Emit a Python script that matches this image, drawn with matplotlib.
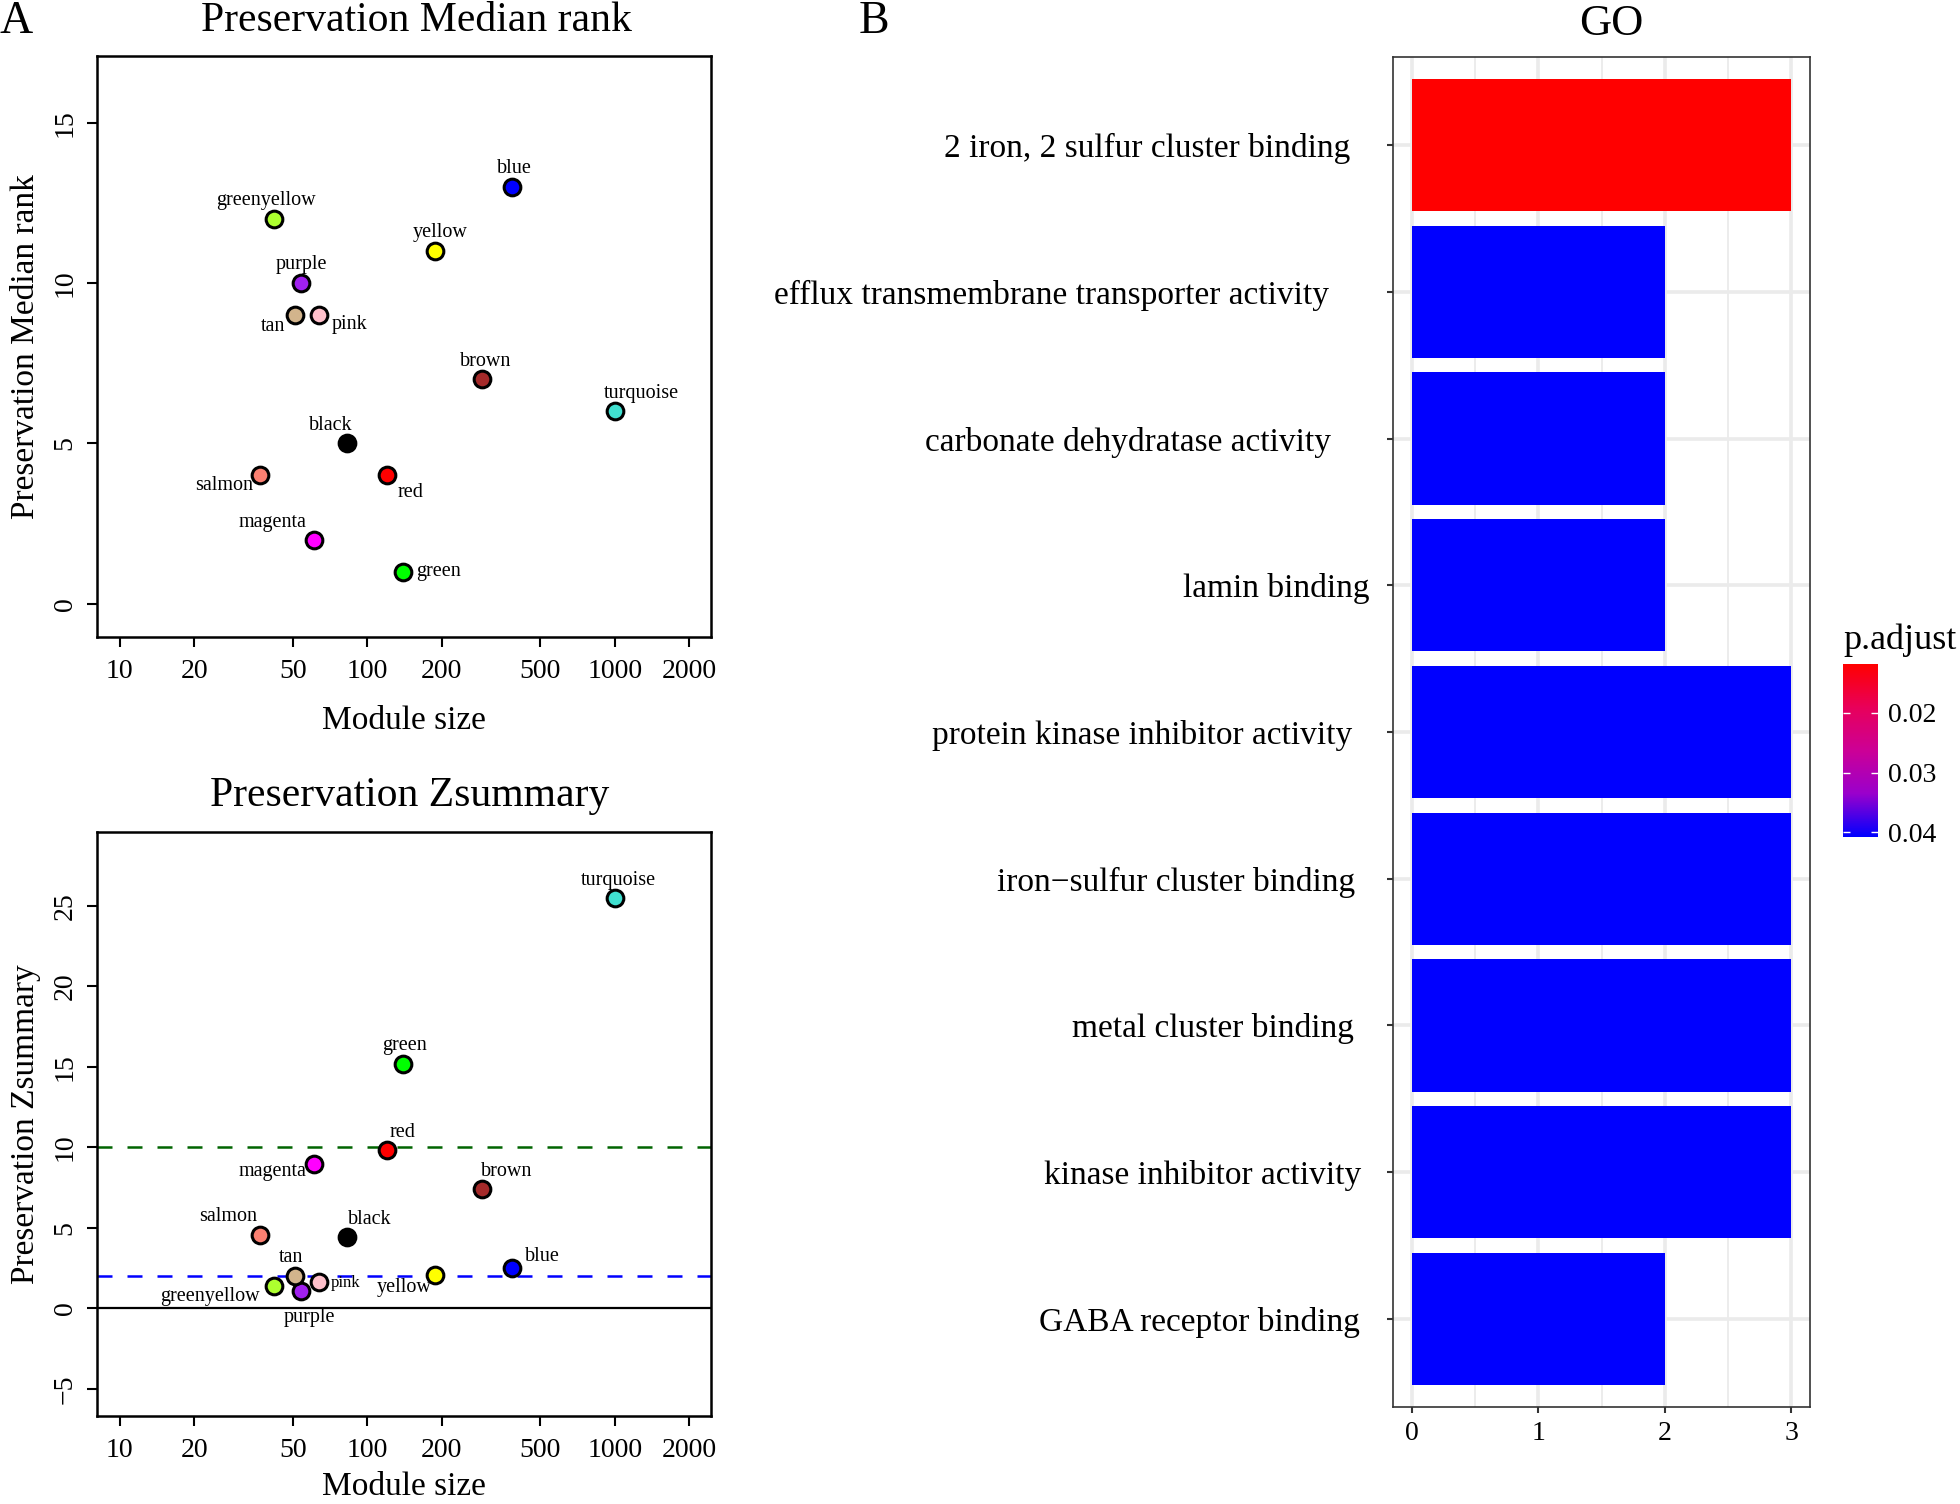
import numpy as np
import matplotlib.pyplot as plt
import matplotlib.transforms as mtransforms
from matplotlib.colors import LinearSegmentedColormap, Normalize
from matplotlib.cm import ScalarMappable

plt.rcParams['font.family'] = ['Liberation Serif', 'DejaVu Serif']

# --- MODULE PRESERVATION DATA ---
modules = ['greenyellow', 'purple', 'tan', 'pink', 'blue', 'yellow', 'brown',
           'turquoise', 'black', 'salmon', 'red', 'magenta', 'green']
module_colors = ['#ADFF2F', '#A020F0', '#D2B48C', '#FFC0CB', '#0000FF', '#FFFF00', '#A52A2A',
                 '#40E0D0', '#000000', '#FA8072', '#FF0000', '#FF00FF', '#00FF00']
module_size = [42, 54, 51, 64, 383, 188, 291, 1000, 83, 37, 120, 61, 140]
median_rank = [12, 10, 9, 9, 13, 11, 7, 6, 5, 4, 4, 2, 1]
zsummary = [1.36, 1.07, 2.01, 1.66, 2.51, 2.07, 7.4, 25.47, 4.41, 4.56, 9.82, 8.99, 15.2]

size_ticks = [10, 20, 50, 100, 200, 500, 1000, 2000]

# label offsets (points) so the names sit where the original put them
rank_label_offsets = [(-6, 13), (0, 13), (-16, -8), (22, -7), (2, 13), (4, 13), (3, 13),
                      (19, 13), (-12, 13), (-26, -7), (17, -12), (-30, 12), (25, 0)]
z_label_offsets = [(-46, -7), (6, -19), (-3, 13), (19, -1), (22, 8), (-22, -9), (18, 13),
                   (3, 13), (16, 13), (-23, 13), (11, 13), (-30, -6), (1, 13)]

# --- GO ENRICHMENT DATA (top to bottom) ---
go_terms = ['2 iron, 2 sulfur cluster binding',
            'efflux transmembrane transporter activity',
            'carbonate dehydratase activity',
            'lamin binding',
            'protein kinase inhibitor activity',
            'iron\u2212sulfur cluster binding',
            'metal cluster binding',
            'kinase inhibitor activity',
            'GABA receptor binding']
go_counts = [3, 2, 2, 2, 3, 3, 3, 3, 2]
go_padj = [0.0118, 0.0408, 0.0408, 0.0408, 0.0408, 0.0408, 0.0408, 0.0408, 0.0408]
go_label_gap = [31, 46, 44.5, 17, 29, 27, 28, 23, 23.5]   # points between tick and label

# --- FIGURE ---
W, H = 1960, 1504
fig = plt.figure(figsize=(W / 100, H / 100), dpi=100)

ax1 = fig.add_axes([97 / W, 1 - 637 / H, 614 / W, 581 / H])
ax2 = fig.add_axes([97 / W, 1 - 1416 / H, 614 / W, 584 / H])


def preservation_panel(ax, yvals, offsets, ylim, yticks, ylabel, xlabelpad):
    for name, col, x, y, (dx, dy) in zip(modules, module_colors, module_size, yvals, offsets):
        ax.plot(x, y, 'o', markersize=12, markerfacecolor=col, markeredgecolor='black',
                markeredgewidth=2.2, zorder=5)
        fs = 12 if (name == 'pink' and ax is ax2) else 14.5
        ax.annotate(name, (x, y), xytext=(dx, dy), textcoords='offset points',
                    ha='center', va='center', fontsize=fs, zorder=6)
    ax.set_xscale('log')
    ax.set_xlim(8.1, 2450)
    ax.set_ylim(*ylim)
    ax.set_xticks(size_ticks)
    ax.set_xticklabels([str(t) for t in size_ticks])
    ax.xaxis.set_minor_locator(plt.NullLocator())
    ax.set_yticks(yticks)
    ax.set_yticklabels([str(t).replace('-', '\u2212') for t in yticks], rotation=90, va='center')
    ax.tick_params(direction='out', length=7, width=1.5, labelsize=20, pad=7)
    ax.tick_params(axis='x', pad=9)
    for sp in ax.spines.values():
        sp.set_linewidth(1.8)
    ax.set_xlabel('Module size', fontsize=24, labelpad=xlabelpad)
    ax.set_ylabel(ylabel, fontsize=24)
    ax.yaxis.set_label_coords(-0.092, 0.5)


preservation_panel(ax1, median_rank, rank_label_offsets, (-1.04, 17.08), [0, 5, 10, 15],
                   'Preservation Median rank', 15)
preservation_panel(ax2, zsummary, z_label_offsets, (-6.69, 29.59), [-5, 0, 5, 10, 15, 20, 25],
                   'Preservation Zsummary', 6)
ax2.axhline(0, color='black', lw=1.6, zorder=2)
ax2.axhline(2, color='blue', lw=1.8, ls=(0, (6, 6)), zorder=2)
ax2.axhline(10, color='darkgreen', lw=1.8, ls=(0, (6, 6)), zorder=2)

fig.text(416 / W, 1 - 21 / H, 'Preservation Median rank', ha='center', va='center', fontsize=30)
fig.text(410 / W, 1 - 796 / H, 'Preservation Zsummary', ha='center', va='center', fontsize=30)
fig.text(0.0, 1 - 22 / H, 'A', ha='left', va='center', fontsize=33)
fig.text(859 / W, 1 - 22 / H, 'B', ha='left', va='center', fontsize=33)

# --- GO BAR PANEL ---
ax3 = fig.add_axes([1393 / W, 1 - 1407 / H, 417 / W, 1350 / H])
cmap = LinearSegmentedColormap.from_list(
    'padj', [(0, '#FF0000'), (0.25, '#E8005A'), (0.5, '#CC0096'), (0.75, '#9A00CC'), (1, '#0000FF')])
norm = Normalize(vmin=min(go_padj), vmax=max(go_padj))

n = len(go_terms)
ypos = np.arange(n, 0, -1)
ax3.barh(ypos, go_counts, height=0.9, color=[cmap(norm(p)) for p in go_padj],
         edgecolor='none', zorder=3)
ax3.set_xlim(-0.15, 3.15)
ax3.set_ylim(0.4, n + 0.6)
ax3.set_xticks([0, 1, 2, 3])
ax3.set_xticks([0.5, 1.5, 2.5], minor=True)
ax3.set_yticks(ypos)
ax3.set_yticklabels(go_terms)
ax3.grid(which='major', color='#EBEBEB', lw=2.6, zorder=0)
ax3.grid(which='minor', axis='x', color='#EBEBEB', lw=1.3, zorder=0)
ax3.tick_params(which='major', direction='out', length=4, width=1.5, color='#333333',
                labelsize=24, labelcolor='black', pad=0)
ax3.tick_params(axis='x', labelsize=20, pad=6)
ax3.tick_params(which='minor', length=0)
for sp in ax3.spines.values():
    sp.set_color('#333333')
    sp.set_linewidth(1.2)
for lab, gap in zip(ax3.get_yticklabels(), go_label_gap):
    lab.set_transform(lab.get_transform() +
                      mtransforms.ScaledTranslation(-(gap - 4) / 72, 0, fig.dpi_scale_trans))
fig.text(1611 / W, 1 - 24 / H, 'GO', ha='center', va='center', fontsize=32)

# colour bar
cax = fig.add_axes([1843 / W, 1 - 837 / H, 35 / W, 173 / H])
cb = fig.colorbar(ScalarMappable(norm=norm, cmap=cmap), cax=cax)
cb.outline.set_visible(False)
cax.invert_yaxis()
cb.set_ticks([0.02, 0.03, 0.04])
cb.set_ticklabels(['0.02', '0.03', '0.04'])
cax.yaxis.set_ticks_position('both')
cax.tick_params(direction='in', color='white', length=5, width=1, labelsize=20, pad=7,
                left=True, right=True, labelleft=False, labelright=True)
cax.minorticks_off()
fig.text(1843 / W, 1 - 640 / H, 'p.adjust', ha='left', va='center', fontsize=26)

fig.savefig('out.png', dpi=100)
